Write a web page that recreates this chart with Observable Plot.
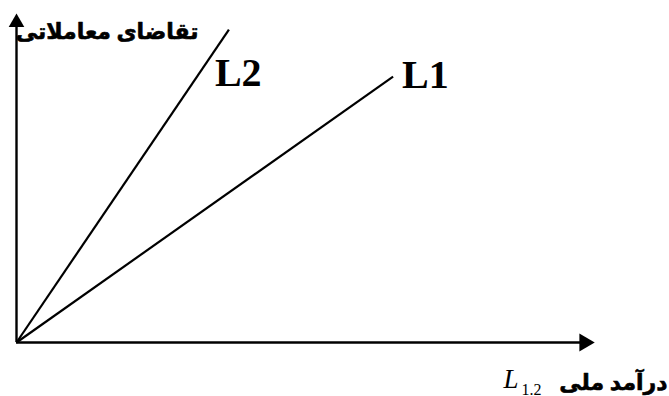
<!DOCTYPE html>
<html>
<head>
<meta charset="utf-8">
<script src="https://cdn.jsdelivr.net/npm/d3@7"></script>
<script src="https://cdn.jsdelivr.net/npm/@observablehq/plot@0.6"></script>
<style>
  html, body { margin: 0; padding: 0; background: #fff; }
  #chart svg { display: block; }
</style>
</head>
<body>
<div id="chart"></div>
<script>
// Series: two lines from the origin
const lineNames = ["L1", "L2"];
const lineEndX = [6.63, 3.74];
const lineEndY = [8.31, 9.78];
// Axis extents
const xMax = 10;
const yMax = 10;
// Titles
const yTitle = "تقاضای معاملاتی";
const xTitle = "درآمد ملی";
const xSymbol = "L";
const xSubscript = "1.2";

const lines = lineNames.map((name, i) => ({name, x1: 0, y1: 0, x2: lineEndX[i], y2: lineEndY[i]}));

const serif = "'Liberation Serif', 'Times New Roman', 'DejaVu Sans', serif";

const chart = Plot.plot({
  width: 669,
  height: 396,
  marginLeft: 16,
  marginRight: 85,
  marginTop: 22,
  marginBottom: 54,
  x: {domain: [0, xMax], axis: null},
  y: {domain: [0, yMax], axis: null},
  style: {background: "#fff", overflow: "visible"},
  marks: [
    // axes
    Plot.ruleY([0], {x1: 0, x2: xMax, stroke: "#000", strokeWidth: 2.6}),
    Plot.ruleX([0], {y1: 0, y2: yMax, stroke: "#000", strokeWidth: 2.4}),
    Plot.dot([{x: xMax, y: 0}], {x: "x", y: "y", symbol: "triangle", fill: "#000", stroke: null, r: 6.6, rotate: 90}),
    Plot.dot([{x: 0, y: yMax}], {x: "x", y: "y", symbol: "triangle", fill: "#000", stroke: null, r: 5.8}),
    // lines
    Plot.link(lines, {x1: "x1", y1: "y1", x2: "x2", y2: "y2", stroke: "#000", strokeWidth: 2.2}),
    // line labels
    Plot.text(lines.filter(d => d.name === "L2"), {x: "x2", y: "y2", text: "name", textAnchor: "start", lineAnchor: "bottom", dx: -14, dy: 56, fontSize: 40, fontWeight: "bold", fontFamily: serif, fill: "#000"}),
    Plot.text(lines.filter(d => d.name === "L1"), {x: "x2", y: "y2", text: "name", textAnchor: "start", lineAnchor: "bottom", dx: 9, dy: 11, fontSize: 40, fontWeight: "bold", fontFamily: serif, fill: "#000"}),
    // axis titles
    Plot.text([yTitle], {frameAnchor: "top-left", text: d => d, textAnchor: "end", lineAnchor: "bottom", dx: 182, dy: 16, fontSize: 22, fontWeight: "bold", fontFamily: serif, fill: "#000", stroke: "#000", strokeWidth: 0.6}),
    Plot.text([xTitle], {frameAnchor: "bottom-right", text: d => d, textAnchor: "end", lineAnchor: "bottom", dx: 83, dy: 47, fontSize: 22, fontWeight: "bold", fontFamily: serif, fill: "#000", stroke: "#000", strokeWidth: 0.6}),
    Plot.text([xSymbol], {frameAnchor: "bottom-right", text: d => d, textAnchor: "start", lineAnchor: "bottom", dx: -81, dy: 45, fontSize: 27, fontStyle: "italic", fontFamily: serif, fill: "#000"}),
    Plot.text([xSubscript], {frameAnchor: "bottom-right", text: d => d, textAnchor: "start", lineAnchor: "bottom", dx: -63, dy: 52, fontSize: 16, fontFamily: serif, fill: "#000"})
  ]
});
document.getElementById("chart").appendChild(chart);
</script>
</body>
</html>
